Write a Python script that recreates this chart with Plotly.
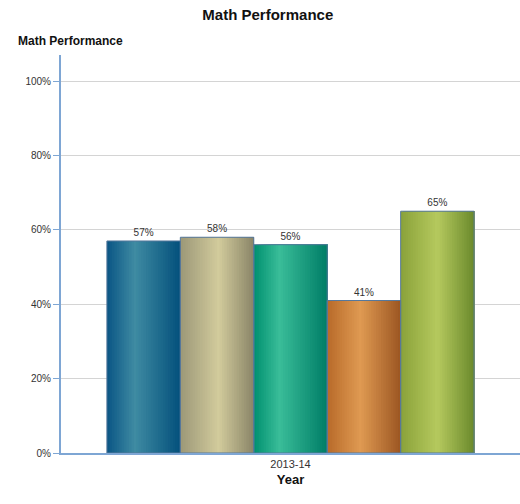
import plotly.graph_objects as go

years = ["2013-14"]
groups = ["Group 1", "Group 2", "Group 3", "Group 4", "Group 5"]
values = [57, 58, 56, 41, 65]
tick_vals = [0, 20, 40, 60, 80, 100]
tick_text = [f"{t}%" for t in tick_vals]

# left edge, highlight, right edge colours for each bar (horizontal shading)
edge_left = ["#0a5585", "#9c9878", "#00906f", "#b86a2a", "#8aa23a"]
highlight = ["#3f8ba2", "#d2cb9c", "#3abd99", "#df9a52", "#b5c95e"]
edge_right = ["#03507c", "#8a8568", "#007d66", "#9c5622", "#6b8a2c"]
highlight_pos = [0.38, 0.52, 0.35, 0.45, 0.5]

FONT = "Liberation Sans, Arial"


def hex_to_rgb(h):
    h = h.lstrip("#")
    return [int(h[i:i + 2], 16) for i in (0, 2, 4)]


def mix(c1, c2, t):
    a, b = hex_to_rgb(c1), hex_to_rgb(c2)
    return "rgb({},{},{})".format(*[round(a[i] + (b[i] - a[i]) * t) for i in range(3)])


def shade(left, mid, right, pos, t):
    if t <= pos:
        return mix(left, mid, t / pos)
    return mix(mid, right, (t - pos) / (1 - pos))


fig = go.Figure()

group_width = 0.8
bar_w = group_width / len(values)
strips = 30

for i, v in enumerate(values):
    start = -group_width / 2 + i * bar_w
    sw = bar_w / strips
    # each strip runs to the bar's right edge, later strips cover earlier ones -> no seams
    fig.add_trace(go.Bar(
        x=years * strips,
        y=[v] * strips,
        offset=[start + k * sw for k in range(strips)],
        width=[bar_w - k * sw for k in range(strips)],
        marker=dict(
            color=[shade(edge_left[i], highlight[i], edge_right[i], highlight_pos[i], (k + 0.5) / strips)
                   for k in range(strips)],
            line=dict(width=0),
        ),
        hoverinfo="skip",
        showlegend=False,
    ))

# outlines + value labels
for i, v in enumerate(values):
    fig.add_trace(go.Bar(
        x=years,
        y=[v],
        name=groups[i],
        offset=-group_width / 2 + i * bar_w,
        width=bar_w,
        marker=dict(color="rgba(0,0,0,0)", line=dict(color="#56789c", width=1)),
        text=[f"{v}%"],
        textposition="outside",
        cliponaxis=False,
        textfont=dict(family=FONT, size=10, color="#333333"),
        showlegend=False,
    ))

fig.update_layout(
    barmode="overlay",
    width=520,
    height=504,
    margin=dict(l=61, r=0, t=55, b=51),
    paper_bgcolor="white",
    plot_bgcolor="white",
    font=dict(family=FONT, color="#333333"),
    title=dict(
        text="<b>Math Performance</b>",
        x=0.515, xanchor="center",
        y=0.97, yanchor="middle", yref="container",
        font=dict(family=FONT, size=15, color="#111111"),
    ),
    xaxis=dict(
        type="category",
        automargin=False,
        showline=True,
        linecolor="#7ea6d4",
        linewidth=2,
        ticks="",
        tickfont=dict(family=FONT, size=11, color="#333333"),
        title=dict(text="<b>Year</b>", standoff=6,
                   font=dict(family=FONT, size=13, color="#111111")),
        showgrid=False,
    ),
    yaxis=dict(
        range=[0, 107],
        automargin=False,
        tickvals=tick_vals,
        ticktext=tick_text,
        showline=True,
        linecolor="#7ea6d4",
        linewidth=2,
        ticks="outside",
        ticklen=6,
        tickcolor="#7ea6d4",
        tickfont=dict(family=FONT, size=10, color="#333333"),
        gridcolor="#d4d4d4",
        gridwidth=1,
        zeroline=False,
    ),
    annotations=[dict(
        text="<b>Math Performance</b>",
        xref="paper", yref="paper",
        x=0, y=1, xanchor="left", yanchor="bottom",
        xshift=-45, yshift=5,
        showarrow=False,
        font=dict(family=FONT, size=12, color="#111111"),
    )],
)

# drop the default 8px body margin so the figure sits flush in the window
fig.write_html("out.html",
               config={"displayModeBar": False},
               post_script="document.body.style.margin='0';document.body.style.overflow='hidden';")
